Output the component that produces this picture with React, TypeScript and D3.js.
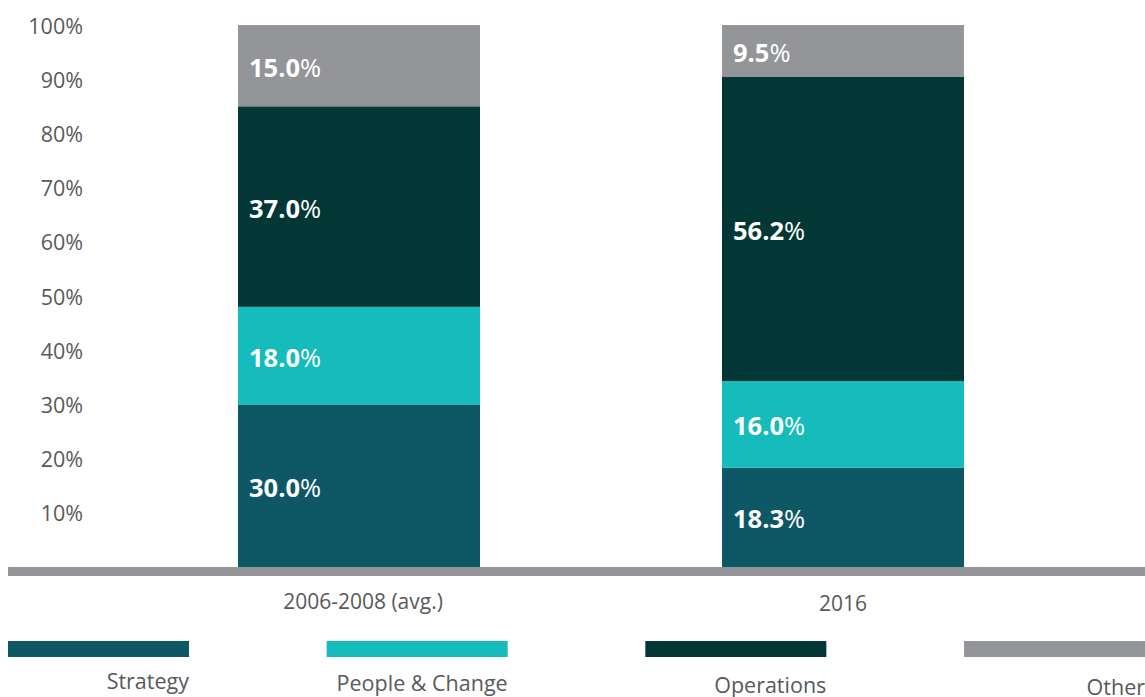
import React from "react";
import * as d3 from "d3";

const categories = ["2006-2008 (avg.)", "2016"];
const seriesNames = ["Strategy", "People & Change", "Operations", "Other"];
const strategy = [30.0, 18.3];
const peopleChange = [18.0, 16.0];
const operations = [37.0, 56.2];
const other = [15.0, 9.5];
const yTicks = [10, 20, 30, 40, 50, 60, 70, 80, 90, 100];
const colors = ["#0e5865", "#16bbbb", "#023735", "#939598"];

const W = 1145;
const H = 697;
const FONT = "'Open Sans', 'Noto Sans', sans-serif";
const TEXT = "#58595b";

export default function App() {
  const rows = categories.map((c, i) => ({
    cat: c,
    Strategy: strategy[i],
    "People & Change": peopleChange[i],
    Operations: operations[i],
    Other: other[i],
  }));
  const stack = d3.stack<any>().keys(seriesNames)(rows);
  const x = d3.scaleBand().domain(categories).range([117, 1085]).paddingInner(0.5).paddingOuter(0.25);
  const y = d3.scaleLinear().domain([0, 100]).range([567, 25]);
  const legendX = d3.scaleLinear().domain([0, 3]).range([8, 964]);

  return (
    <svg width={W} height={H} style={{ position: "absolute", left: 0, top: 0, background: "#fff" }} fontFamily={FONT}>
      {yTicks.map((t) => (
        <text key={t} x={83} y={y(t)} textAnchor="end" dominantBaseline="central" fontSize={21.5} fill={TEXT}>
          {t}%
        </text>
      ))}
      {stack.map((s, si) =>
        s.map((d, i) => {
          const x0 = x(categories[i]) as number;
          const y0 = y(d[0]);
          const y1 = y(d[1]);
          const v = d[1] - d[0];
          return (
            <g key={`${si}-${i}`}>
              <rect x={x0} y={y1} width={x.bandwidth()} height={y0 - y1} fill={colors[si]} />
              <text x={x0 + 11} y={(y0 + y1) / 2 + 1} dominantBaseline="central" fill="#fff" fontSize={25.5}>
                <tspan fontWeight="bold">{v.toFixed(1)}</tspan>
                <tspan>%</tspan>
              </text>
            </g>
          );
        })
      )}
      <rect x={8} y={y(0)} width={W - 8} height={9} fill="#939598" />
      {categories.map((c, i) => (
        <text key={c} x={(x(c) as number) + x.bandwidth() / 2 + (i === 0 ? 4 : 0)} y={y(0) + 42 + i * 2} textAnchor="middle" fontSize={21} fill={TEXT}>
          {c}
        </text>
      ))}
      {seriesNames.map((n, i) => (
        <g key={n}>
          <rect x={legendX(i)} y={641} width={181} height={16} fill={colors[i]} />
          <text x={legendX(i) + 181} y={689 + i * 2} textAnchor="end" fontSize={21.5} fill={TEXT}>
            {n}
          </text>
        </g>
      ))}
    </svg>
  );
}
